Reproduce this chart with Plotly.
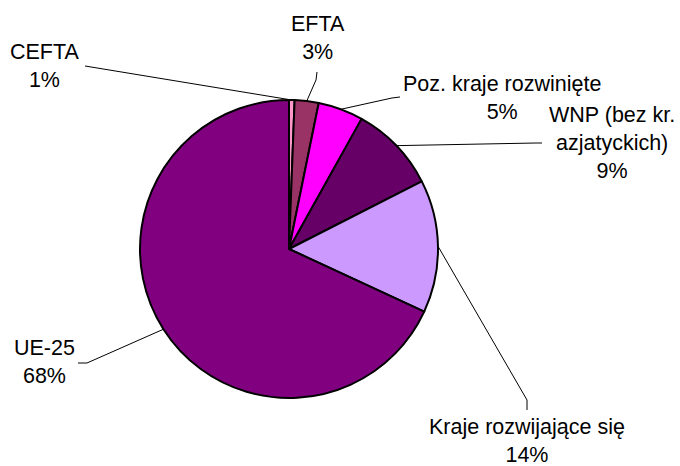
import math
import plotly.graph_objects as go

# ---- data ----
categories = ["CEFTA", "EFTA", "Poz. kraje rozwinięte", "WNP (bez kr.<br>azjatyckich)",
              "Kraje rozwijające się", "UE-25"]
values = [0.6, 2.6, 4.9, 9.4, 14.4, 68.1]
pct_labels = ["1%", "3%", "5%", "9%", "14%", "68%"]
colors = ["#FF99CC", "#993366", "#FF00FF", "#660066", "#CC99FF", "#800080"]

# ---- layout geometry (pixels, top-left origin) ----
W, H = 680, 466
CX, CY, R = 289, 249, 149
# label block centres
label_pos = [(45, 66), (318, 38), (502, 98), (612, 143), (527, 441), (44, 362)]
# leader line elbow / end points near each label
label_anchor = [
    [(85, 66)],
    [(316, 80), (317, 72)],
    [(392, 98), (400, 97)],
    [(536, 143), (542, 143)],
    [(527, 400), (527, 410)],
    [(87, 363), (78, 363)],
]

def px2paper(x, y):
    return x / W, 1 - y / H

fig = go.Figure()
fig.add_trace(go.Pie(
    labels=categories, values=values, sort=False, direction="clockwise",
    rotation=0, textinfo="none", hoverinfo="label+percent",
    marker=dict(colors=colors, line=dict(color="black", width=2)),
    domain=dict(x=[(CX - R) / W, (CX + R) / W], y=[1 - (CY + R) / H, 1 - (CY - R) / H]),
    showlegend=False,
))

total = sum(values)
cum = 0.0
shapes = []
annotations = []
for i, v in enumerate(values):
    mid = (cum + v / 2) / total * 2 * math.pi
    cum += v
    px = CX + R * math.sin(mid)
    py = CY - R * math.cos(mid)
    pts = [(px, py)] + label_anchor[i]
    path = ""
    for j, (x, y) in enumerate(pts):
        xp, yp = px2paper(x, y)
        path += ("M" if j == 0 else " L") + f" {xp:.5f},{yp:.5f}"
    shapes.append(dict(type="path", path=path, xref="paper", yref="paper",
                       line=dict(color="black", width=1)))
    lx, ly = px2paper(*label_pos[i])
    annotations.append(dict(
        x=lx, y=ly, xref="paper", yref="paper", xanchor="center", yanchor="middle",
        text=f"{categories[i]}<br>{pct_labels[i]}", showarrow=False, align="center",
        font=dict(family="Liberation Sans, Arial, sans-serif", size=21.5, color="black"),
    ))

fig.update_layout(
    width=W, height=H, margin=dict(l=0, r=0, t=0, b=0),
    paper_bgcolor="white", plot_bgcolor="white",
    shapes=shapes, annotations=annotations,
)
fig.write_html("out.html", config={"displayModeBar": False},
               post_script="document.body.style.margin='0';document.body.style.padding='0';")
